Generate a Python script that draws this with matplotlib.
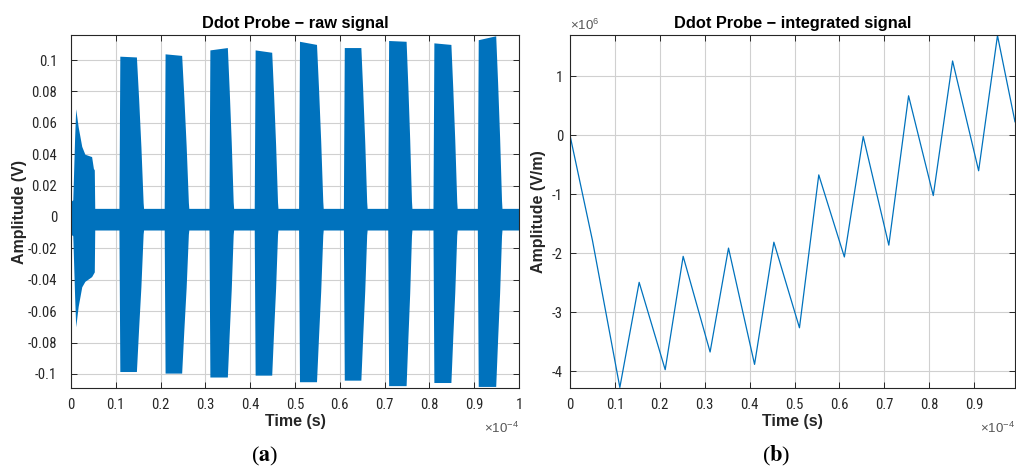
import matplotlib
matplotlib.use('Agg')
import matplotlib.pyplot as plt
from matplotlib.ticker import FuncFormatter, MultipleLocator
from matplotlib import font_manager

plt.rcParams['font.family'] = ['Liberation Sans', 'DejaVu Sans']
plt.rcParams['mathtext.fontset'] = 'custom'
plt.rcParams['mathtext.rm'] = 'Liberation Sans'
plt.rcParams['mathtext.it'] = 'Liberation Sans:italic'
plt.rcParams['mathtext.bf'] = 'Liberation Sans:bold'

_avail = {f.name for f in font_manager.fontManager.ttflist}
TICK_FONT = 'Liberation Sans'
for cand in ['Liberation Sans Narrow', 'Arial Narrow', 'Arimo Narrow', 'Roboto Condensed',
             'Archivo Narrow', 'PT Sans Narrow']:
    if cand in _avail:
        TICK_FONT = cand
        break

BLUE = '#0072BD'
DARK = '#262626'

# ---------------- raw signal envelope (time in 1e-4 s, amplitude in V) -------------
first_t = [0.0, 0.004, 0.008, 0.0105, 0.016, 0.024, 0.031, 0.046, 0.050, 0.052]
first_top = [0.010, 0.011, 0.050, 0.069, 0.0575, 0.045, 0.040, 0.0385, 0.031, 0.030]
first_bot = [-0.011, -0.012, -0.050, -0.070, -0.057, -0.0445, -0.041, -0.038, -0.036, -0.035]

base_top = 0.0055
base_bot = -0.0083

burst_start = [0.108, 0.209, 0.309, 0.410, 0.509, 0.609, 0.708, 0.809, 0.908]
plateau_end = [0.146, 0.247, 0.349, 0.448, 0.548, 0.647, 0.748, 0.848, 0.948]
burst_end = [0.161, 0.262, 0.362, 0.461, 0.562, 0.660, 0.760, 0.861, 0.961]
top_a = [0.1025, 0.104, 0.1065, 0.1065, 0.112, 0.108, 0.1125, 0.111, 0.113]
top_b = [0.102, 0.103, 0.108, 0.105, 0.110, 0.108, 0.112, 0.110, 0.1155]
burst_bot = [-0.0985, -0.0995, -0.102, -0.1008, -0.105, -0.104, -0.1075, -0.1055, -0.108]

tail_frac = [0.0, 0.33, 0.67, 1.0]
tail_top = [1.0, 0.74, 0.44, 0.09]
tail_bot = [1.0, 0.72, 0.45, 0.11]

# ---------------- integrated signal (time in 1e-4 s, amplitude in 1e6 V/m) ----------
int_t = [0.0, 0.050, 0.111, 0.154, 0.212, 0.252, 0.312, 0.353, 0.411, 0.454, 0.511,
         0.554, 0.611, 0.653, 0.710, 0.754, 0.809, 0.852, 0.910, 0.952, 0.991]
int_v = [0.0, -1.78, -4.27, -2.49, -3.97, -2.05, -3.67, -1.91, -3.88, -1.81, -3.26,
         -0.67, -2.06, -0.02, -1.86, 0.67, -1.02, 1.26, -0.60, 1.69, 0.23]

# build the envelope
env_t = list(first_t)
env_top = list(first_top)
env_bot = list(first_bot)
env_t.append(0.053); env_top.append(base_top); env_bot.append(base_bot)
for s, pe, e, ta, tb, bb in zip(burst_start, plateau_end, burst_end, top_a, top_b, burst_bot):
    env_t += [s - 0.001, s + 0.001]
    env_top += [base_top, ta]
    env_bot += [base_bot, bb]
    for f, ft, fb in zip(tail_frac, tail_top, tail_bot):
        env_t.append(pe + f * (e - pe))
        env_top.append(tb * ft)
        env_bot.append(bb * fb)
    env_t.append(e + 0.001); env_top.append(base_top); env_bot.append(base_bot)
env_t.append(1.0); env_top.append(base_top); env_bot.append(base_bot)


def fmt(v, p):
    v = round(v, 6)
    if v == 0:
        return '0'
    return f'{v:g}'


def style(ax, ypad):
    ax.grid(True, color='#d0d0d0', lw=0.8)
    ax.set_axisbelow(True)
    ax.tick_params(direction='in', top=True, right=True, length=4, width=0.7,
                   colors=DARK, labelsize=10.5, labelcolor=DARK)
    ax.tick_params(axis='y', pad=ypad)
    ax.tick_params(axis='x', pad=7)
    for sp in ax.spines.values():
        sp.set_color(DARK)
        sp.set_linewidth(0.8)
    ax.xaxis.set_major_formatter(FuncFormatter(fmt))
    ax.yaxis.set_major_formatter(FuncFormatter(fmt))
    for lab in ax.get_xticklabels() + ax.get_yticklabels():
        lab.set_family([TICK_FONT, 'Liberation Sans'])


fig = plt.figure(figsize=(10.16, 4.68), dpi=100)
W, H = 1016, 468
ax1 = fig.add_axes([71 / W, 1 - 388 / H, 448 / W, 353 / H])
ax2 = fig.add_axes([570 / W, 1 - 388 / H, 445 / W, 353 / H])

# left panel
ax1.fill_between(env_t, env_bot, env_top, color=BLUE, lw=0)
ax1.set_xlim(0, 1)
ax1.set_ylim(-0.109, 0.116)
ax1.xaxis.set_major_locator(MultipleLocator(0.1))
ax1.yaxis.set_major_locator(MultipleLocator(0.02))
style(ax1, 10)
ax1.set_title('Ddot Probe − raw signal', fontsize=11.8, fontweight='bold', pad=5, color='black')
ax1.set_xlabel('Time (s)', fontsize=11.5, fontweight='bold', color=DARK)
ax1.set_ylabel('Amplitude (V)', fontsize=11.5, fontweight='bold', color=DARK)
ax1.xaxis.set_label_coords(0.5, -0.075)
ax1.yaxis.set_label_coords(-0.098, 0.5)
ax1.text(1.0, -0.115, r'$\times$10$^{-4}$', transform=ax1.transAxes, ha='right', va='center',
         fontsize=9.5, color='#555555')

# right panel
ax2.plot(int_t, int_v, color=BLUE, lw=0.9)
ax2.set_xlim(0, 0.991)
ax2.set_ylim(-4.28, 1.70)
ax2.xaxis.set_major_locator(MultipleLocator(0.1))
ax2.yaxis.set_major_locator(MultipleLocator(1))
style(ax2, 5)
ax2.set_title('Ddot Probe − integrated signal', fontsize=11.8, fontweight='bold', pad=5, color='black')
ax2.set_xlabel('Time (s)', fontsize=11.5, fontweight='bold', color=DARK)
ax2.set_ylabel('Amplitude (V/m)', fontsize=11.5, fontweight='bold', color=DARK)
ax2.xaxis.set_label_coords(0.5, -0.075)
ax2.yaxis.set_label_coords(-0.054, 0.5)
ax2.text(0.0, 1.005, r'$\times$10$^{6}$', transform=ax2.transAxes, ha='left', va='bottom',
         fontsize=9.5, color='#555555')
ax2.text(1.0, -0.115, r'$\times$10$^{-4}$', transform=ax2.transAxes, ha='right', va='center',
         fontsize=9.5, color='#555555')

# sub-captions
fig.text(265 / W, 1 - 456 / H, r'($\mathbf{a}$)', ha='center', va='center', fontsize=16,
         family='Liberation Serif', math_fontfamily='stix')
fig.text(776 / W, 1 - 456 / H, r'($\mathbf{b}$)', ha='center', va='center', fontsize=16,
         family='Liberation Serif', math_fontfamily='stix')

fig.savefig('out.png', dpi=100)
